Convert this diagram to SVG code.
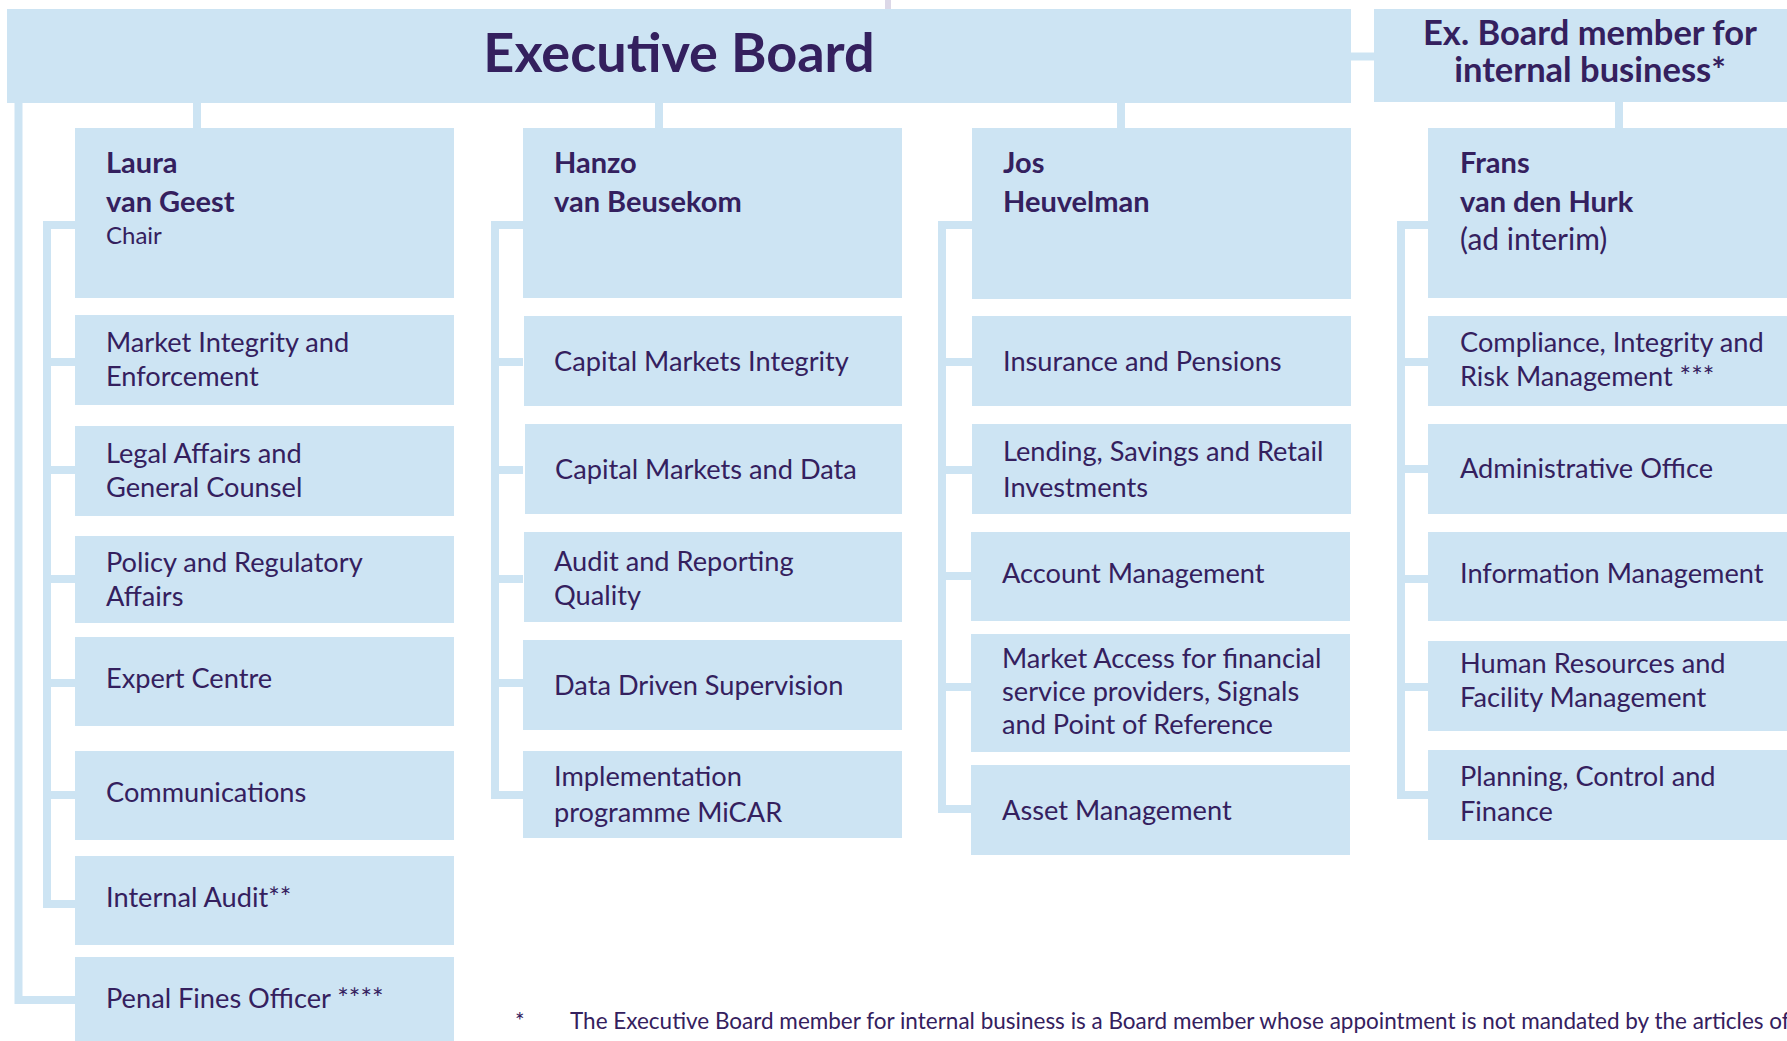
<svg xmlns="http://www.w3.org/2000/svg" width="1787" height="1041" viewBox="0 0 1787 1041">
<style>
.box{fill:#cde4f3}
.ln{fill:none;stroke:#cde4f3;stroke-width:8}
text{font-family:Lato,"Open Sans","Liberation Sans",sans-serif;fill:#34205e}
.t{font-size:27.2px}
.nm{font-size:29px;font-weight:bold}
.sub{font-size:24px}
.hd{font-size:54px;font-weight:bold}
.hd2{font-size:34.5px;font-weight:bold}
.fn{font-size:22.5px}
</style>
<rect x="885" y="0" width="6" height="9" fill="#dcd8e8"/>
<g id="connectors">
<path class="ln" d="M1351,56.5 H1374"/>
<path class="ln" d="M197,103 V128 M659,103 V128 M1121,103 V128 M1619,102 V128"/>
<path class="ln" d="M18.5,103 V1000 H75"/>
<path class="ln" d="M75,225 H47 V904 H75 M47,362 H75 M47,470 H75 M47,579 H75 M47,683 H75 M47,795 H75"/>
<path class="ln" d="M523,225 H495 V795 H523 M495,362 H523 M495,470 H523 M495,579 H523 M495,683 H523"/>
<path class="ln" d="M972,225 H942 V809 H972 M942,362 H972 M942,470 H972 M942,576 H972 M942,687 H972"/>
<path class="ln" d="M1428,225 H1401 V795 H1428 M1401,362 H1428 M1401,469 H1428 M1401,579 H1428 M1401,687 H1428"/>
</g>
<g id="executive-board"><rect class="box" x="7" y="9" width="1344" height="94"/><text class="hd" x="679" y="72" text-anchor="middle">Executive Board</text></g>
<g id="ex-board-internal"><rect class="box" x="1374" y="9" width="433" height="93"/><text class="hd2" x="1590" y="45" text-anchor="middle">Ex. Board member for</text><text class="hd2" x="1590" y="82" text-anchor="middle">internal business*</text></g>

<g id="laura"><rect class="box" x="75" y="128" width="379" height="170"/><text class="nm" x="106" y="173">Laura</text><text class="nm" x="106" y="212">van Geest</text><text class="sub" x="106" y="244">Chair</text></g>
<g id="hanzo"><rect class="box" x="523" y="128" width="379" height="170"/><text class="nm" x="554" y="173">Hanzo</text><text class="nm" x="554" y="212">van Beusekom</text></g>
<g id="jos"><rect class="box" x="972" y="128" width="379" height="171"/><text class="nm" x="1003" y="173">Jos</text><text class="nm" x="1003" y="212">Heuvelman</text></g>
<g id="frans"><rect class="box" x="1428" y="128" width="379" height="170"/><text class="nm" x="1460" y="173">Frans</text><text class="nm" x="1460" y="212">van den Hurk</text><text class="t" x="1460" y="250" style="font-size:30px">(ad interim)</text></g>

<g id="market-integrity"><rect class="box" x="75" y="315" width="379" height="90"/><text class="t" x="106" y="352">Market Integrity and</text><text class="t" x="106" y="386">Enforcement</text></g>
<g id="legal-affairs"><rect class="box" x="75" y="426" width="379" height="90"/><text class="t" x="106" y="463">Legal Affairs and</text><text class="t" x="106" y="497">General Counsel</text></g>
<g id="policy"><rect class="box" x="75" y="536" width="379" height="87"/><text class="t" x="106" y="572">Policy and Regulatory</text><text class="t" x="106" y="606">Affairs</text></g>
<g id="expert-centre"><rect class="box" x="75" y="637" width="379" height="89"/><text class="t" x="106" y="688">Expert Centre</text></g>
<g id="communications"><rect class="box" x="75" y="751" width="379" height="89"/><text class="t" x="106" y="802">Communications</text></g>
<g id="internal-audit"><rect class="box" x="75" y="856" width="379" height="89"/><text class="t" x="106" y="907">Internal Audit**</text></g>
<g id="penal-fines"><rect class="box" x="75" y="957" width="379" height="84"/><text class="t" x="106" y="1008">Penal Fines Officer ****</text></g>

<g id="capital-markets-integrity"><rect class="box" x="524" y="316" width="378" height="90"/><text class="t" x="554" y="371">Capital Markets Integrity</text></g>
<g id="capital-markets-data"><rect class="box" x="525" y="424" width="377" height="90"/><text class="t" x="555" y="479">Capital Markets and Data</text></g>
<g id="audit-reporting"><rect class="box" x="524" y="532" width="378" height="90"/><text class="t" x="554" y="571">Audit and Reporting</text><text class="t" x="554" y="605">Quality</text></g>
<g id="data-driven"><rect class="box" x="523" y="640" width="379" height="90"/><text class="t" x="554" y="695">Data Driven Supervision</text></g>
<g id="micar"><rect class="box" x="523" y="751" width="379" height="87"/><text class="t" x="554" y="786">Implementation</text><text class="t" x="554" y="822">programme MiCAR</text></g>

<g id="insurance"><rect class="box" x="972" y="316" width="379" height="90"/><text class="t" x="1003" y="371">Insurance and Pensions</text></g>
<g id="lending"><rect class="box" x="972" y="424" width="379" height="90"/><text class="t" x="1003" y="461">Lending, Savings and Retail</text><text class="t" x="1003" y="497">Investments</text></g>
<g id="account"><rect class="box" x="971" y="532" width="379" height="89"/><text class="t" x="1002" y="583">Account Management</text></g>
<g id="market-access"><rect class="box" x="971" y="634" width="379" height="118"/><text class="t" x="1002" y="668">Market Access for financial</text><text class="t" x="1002" y="701">service providers, Signals</text><text class="t" x="1002" y="734">and Point of Reference</text></g>
<g id="asset"><rect class="box" x="971" y="765" width="379" height="90"/><text class="t" x="1002" y="820">Asset Management</text></g>

<g id="compliance"><rect class="box" x="1428" y="316" width="379" height="90"/><text class="t" x="1460" y="352">Compliance, Integrity and</text><text class="t" x="1460" y="386">Risk Management ***</text></g>
<g id="administrative"><rect class="box" x="1428" y="424" width="379" height="90"/><text class="t" x="1460" y="478">Administrative Office</text></g>
<g id="information"><rect class="box" x="1428" y="532" width="379" height="89"/><text class="t" x="1460" y="583">Information Management</text></g>
<g id="human-resources"><rect class="box" x="1428" y="641" width="379" height="90"/><text class="t" x="1460" y="673">Human Resources and</text><text class="t" x="1460" y="707">Facility Management</text></g>
<g id="planning"><rect class="box" x="1428" y="750" width="379" height="90"/><text class="t" x="1460" y="786">Planning, Control and</text><text class="t" x="1460" y="821">Finance</text></g>

<g id="footnote"><text class="fn" x="515" y="1029">*</text><text class="fn" x="570" y="1029">The Executive Board member for internal business is a Board member whose appointment is not mandated by the articles of</text></g>
</svg>
